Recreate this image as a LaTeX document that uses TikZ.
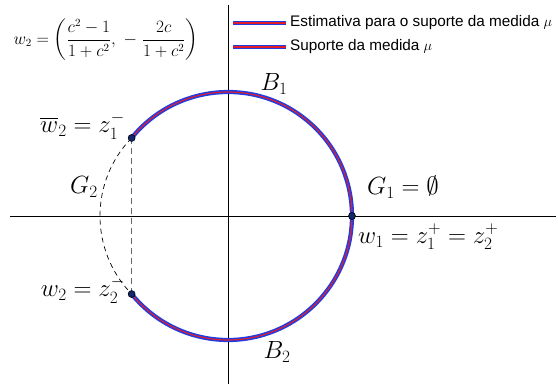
\documentclass[tikz,border=0pt]{standalone}
\usepackage{amsmath}
\usepackage{fontspec}
\newfontfamily\legfont{Liberation Sans}
\usetikzlibrary{calc}
\definecolor{supblue}{RGB}{35,60,225}
\definecolor{supred}{RGB}{225,30,40}
\definecolor{ptfill}{RGB}{20,40,110}
\definecolor{chordgray}{RGB}{105,105,105}
\tikzset{
  axis/.style={black, line width=0.8pt},
  supout/.style={supblue, line width=4.2pt},
  supin/.style={supred, line width=1.1pt},
  pt/.style={circle, fill=ptfill, draw=black, line width=0.6pt, inner sep=0pt, minimum size=7pt},
  lbl/.style={inner sep=1pt, font=\fontsize{24}{28}\selectfont},
  leg/.style={anchor=west, inner sep=0pt, font=\legfont\fontsize{15.3}{18}\selectfont},
}
\begin{document}
\begin{tikzpicture}[x=1pt,y=-1pt]
\useasboundingbox (0,0) rectangle (558,385);
\coordinate (O) at (228,216);
\coordinate (xl) at (10,216);
\coordinate (xr) at (556,216);
\coordinate (yt) at (228,5);
\coordinate (yb) at (228,384);
\draw[axis] (xl) -- (xr);
\draw[axis] (yt) -- (yb);
\coordinate (z1) at ($(O)+(141:124pt)$);
\coordinate (z2) at ($(O)+(219:124pt)$);
\coordinate (w1) at ($(O)+(0:124pt)$);
% support arc B1 + B2
\draw[supout] (z1) arc[start angle=141, end angle=-141, radius=124pt];
\draw[supin] (z1) arc[start angle=141, end angle=-141, radius=124pt];
% dashed G2 arc and chord
\draw[black, line width=0.7pt, dash pattern=on 5pt off 4pt] (z1) arc[start angle=135.87, end angle=224.13, radius=112.09pt];
\draw[chordgray, line width=1.4pt, dash pattern=on 6pt off 4pt] (z1) -- (z2);
\node[pt] (p1) at (z1) {};
\node[pt] (p2) at (z2) {};
\node[pt] (p3) at (w1) {};
% labels
\node[lbl] (B1) at (274,84) {$B_1$};
\node[lbl] (B2) at (277,352) {$B_2$};
\node[lbl] (G1) at (403,187) {$G_1=\emptyset$};
\node[lbl] (G2) at (84,187) {$G_2$};
\node[lbl, anchor=west] (lw1) at (357,237) {$w_1=z_1^+=z_2^+$};
\node[lbl, anchor=east] (lz1) at (126,126) {$\overline{w}_2=z_1^-$};
\node[lbl, anchor=east] (lz2) at (126,290) {$w_2=z_2^-$};
% formula
\node[inner sep=0pt, font=\fontsize{16}{19}\selectfont] (form) at (106,40) {$w_2=\left(\dfrac{c^2-1}{1+c^2},\;-\;\dfrac{2c}{1+c^2}\right)$};
% legend
\coordinate (l1a) at (233,23);
\coordinate (l1b) at (286,23);
\coordinate (l2a) at (233,47);
\coordinate (l2b) at (286,47);
\draw[supout, line width=3.8pt] (l1a) -- (l1b);
\draw[supin] (l1a) -- (l1b);
\draw[supout, line width=3.8pt] (l2a) -- (l2b);
\draw[supin] (l2a) -- (l2b);
\node[leg] (t1) at (290,23) {Estimativa para o suporte da medida $\mu$};
\node[leg] (t2) at (290,47) {Suporte da medida $\mu$};
\end{tikzpicture}
\end{document}
